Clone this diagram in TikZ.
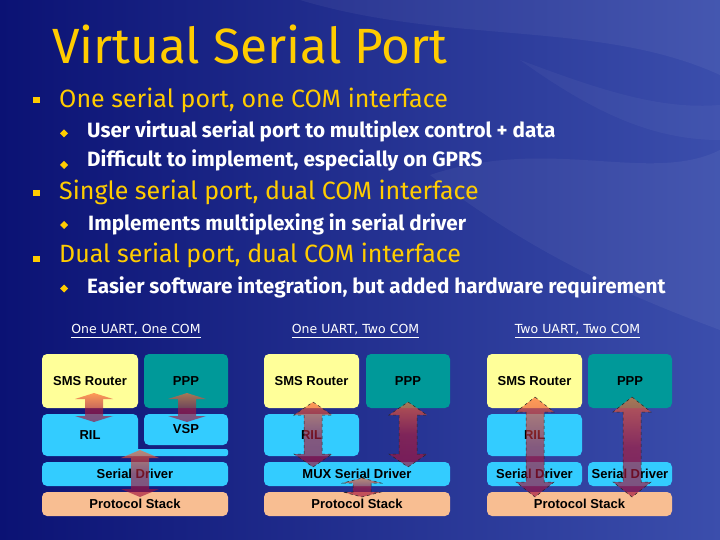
\documentclass[tikz,border=0pt]{standalone}
\usepackage{fontspec}
\setmainfont{Fira Sans}
\newfontfamily\boxfont{Liberation Sans}
\newfontfamily\headfont{DejaVu Sans}
\usetikzlibrary{calc}
\definecolor{SlideDark}  {HTML}{0B1274}
\definecolor{SlideLight} {HTML}{3B4EAC}
\definecolor{TitleYellow}{HTML}{FFCC00}
\definecolor{SmsYellow}  {HTML}{FFFF99}
\definecolor{PppTeal}    {HTML}{009999}
\definecolor{LayerBlue}  {HTML}{33CCFF}
\definecolor{StackPeach} {HTML}{F8BE92}
\definecolor{ArrowTop}   {HTML}{FF6633}
\definecolor{ArrowBot}   {HTML}{A0103C}

% double block arrow between two named coordinates: [style]{top}{bottom}{head length}
\newcommand{\dblarrow}[4][]{%
  \path[arrowbody,#1] let \p1=(#2), \p2=(#3) in
    (\x1,\y1) -- (\x1+19pt,\y1-#4) -- (\x1+9pt,\y1-#4) -- (\x1+9pt,\y2+#4)
    -- (\x1+19pt,\y2+#4) -- (\x1,\y2) -- (\x1-19pt,\y2+#4) -- (\x1-9pt,\y2+#4)
    -- (\x1-9pt,\y1-#4) -- (\x1-19pt,\y1-#4) -- cycle;}

\begin{document}
\begin{tikzpicture}[x=1pt, y=-1pt,
  title/.style={anchor=base west, inner sep=0pt, text=TitleYellow, font=\fontsize{49.5}{55}\selectfont},
  point/.style={anchor=base west, inner sep=0pt, text=TitleYellow, font=\fontsize{25}{29}\selectfont},
  subpoint/.style={anchor=base west, inner sep=0pt, text=white, font=\bfseries\fontsize{20.7}{24}\selectfont},
  heading/.style={inner sep=0pt, text=white, font=\headfont\fontsize{12.5}{14}\selectfont},
  layer/.style={rounded corners=5pt, inner sep=0pt, text=black, font=\boxfont\bfseries\fontsize{13}{15}\selectfont},
  sms/.style={layer, fill=SmsYellow, minimum height=54pt},
  ppp/.style={layer, fill=PppTeal, minimum height=54pt},
  ril/.style={layer, fill=LayerBlue, minimum height=42pt},
  driver/.style={layer, fill=LayerBlue, minimum height=24pt},
  stack/.style={layer, fill=StackPeach, minimum height=24pt},
  arrowbody/.style={top color=ArrowTop, bottom color=ArrowBot, middle color=ArrowBot!85!ArrowTop, fill opacity=0.65},
  dashedge/.style={draw=black!85, dashed, line width=0.5pt}]

  \useasboundingbox (0,0) rectangle (720,540);

  % ===== BACKGROUND =====
  \shade[left color=SlideDark, right color=SlideLight] (0,0) rectangle (720,540);
  \fill[white, opacity=0.05] (300,0) .. controls (450,45) and (600,20) .. (720,75) -- (720,0) -- cycle;
  \fill[white, opacity=0.05] (430,175) .. controls (550,135) and (650,185) .. (720,150)
        -- (720,330) .. controls (640,300) and (540,260) .. (430,175) -- cycle;
  \fill[white, opacity=0.04] (520,60) .. controls (600,90) and (660,110) .. (720,105)
        -- (720,140) .. controls (650,140) and (590,110) .. (520,60) -- cycle;

  % ===== TITLE AND BULLETS =====
  \node[title] (title) at (52,64) {Virtual Serial Port};

  \foreach \y in {100,193.5,258.5}
    \fill[TitleYellow] (33,\y-3) rectangle (40,\y+3);
  \foreach \y in {133.5,165,225,288.5}
    \fill[TitleYellow] (64,\y-4) -- (68,\y) -- (64,\y+4) -- (60,\y) -- cycle;

  \node[point]    (p1)  at (59,108) {One serial port, one COM interface};
  \node[subpoint] (p1a) at (87,138) {User virtual serial port to multiplex control + data};
  \node[subpoint] (p1b) at (87,167) {Difficult to implement, especially on GPRS};
  \node[point]    (p2)  at (59,200) {Single serial port, dual COM interface};
  \node[subpoint] (p2a) at (88,230) {Implements multiplexing in serial driver};
  \node[point]    (p3)  at (59,262) {Dual serial port, dual COM interface};
  \node[subpoint] (p3a) at (87,293) {Easier software integration, but added hardware requirement};

  % ===== PANEL 1: ONE UART, ONE COM =====
  \node[heading] (headA) at (136,331) {\underline{One UART, One COM}};
  \fill[LayerBlue, rounded corners=2pt] (130,449) rectangle (228,456);
  \node[sms, minimum width=96pt]    (smsA)    at (90,381)    {SMS Router};
  \node[ppp, minimum width=84pt]    (pppA)    at (186,381)   {PPP};
  \node[ril, minimum width=96pt]    (rilA)    at (90,435)    {RIL};
  \node[layer, fill=LayerBlue, minimum width=84pt, minimum height=31pt]
                                    (vspA)    at (186,429.5) {VSP};
  \node[driver, minimum width=186pt] (serA)   at (135,474)   {Serial Driver};
  \node[stack, minimum width=186pt]  (stackA) at (135,504)   {Protocol Stack};

  \coordinate (a1t) at (94,393);  \coordinate (a1b) at (94,422);
  \coordinate (a2t) at (187,393); \coordinate (a2b) at (187,422);
  \coordinate (a3t) at (140,450); \coordinate (a3b) at (140,497);
  \dblarrow{a1t}{a1b}{6pt}
  \dblarrow{a2t}{a2b}{6pt}
  \dblarrow{a3t}{a3b}{8pt}

  % ===== PANEL 2: ONE UART, TWO COM =====
  \node[heading] (headB) at (355.5,331) {\underline{One UART, Two COM}};
  \node[sms, minimum width=95pt]     (smsB)   at (311.5,381) {SMS Router};
  \node[ppp, minimum width=84pt]     (pppB)   at (408,381)   {PPP};
  \node[ril, minimum width=95pt]     (rilB)   at (311.5,435) {RIL};
  \node[driver, minimum width=186pt] (muxB)   at (357,474)   {MUX Serial Driver};
  \node[stack, minimum width=186pt]  (stackB) at (357,504)   {Protocol Stack};

  \coordinate (b1t) at (313,402); \coordinate (b1b) at (313,467);
  \coordinate (b2t) at (408,402); \coordinate (b2b) at (408,467);
  \coordinate (b3t) at (362,478); \coordinate (b3b) at (362,497);
  \dblarrow[dashedge]{b1t}{b1b}{13pt}
  \dblarrow[dashedge]{b2t}{b2b}{13pt}
  \dblarrow[dashedge]{b3t}{b3b}{5pt}

  % ===== PANEL 3: TWO UART, TWO COM =====
  \node[heading] (headC) at (577.5,331) {\underline{Two UART, Two COM}};
  \node[sms, minimum width=95pt]     (smsC)   at (534.5,381) {SMS Router};
  \node[ppp, minimum width=84pt]     (pppC)   at (630,381)   {PPP};
  \node[ril, minimum width=95pt]     (rilC)   at (534.5,435) {RIL};
  \node[driver, minimum width=95pt]  (serC)   at (534.5,474) {Serial Driver};
  \node[driver, minimum width=84pt]  (serD)   at (630,474)   {Serial Driver};
  \node[stack, minimum width=185pt]  (stackC) at (579.5,504) {Protocol Stack};

  \coordinate (c1t) at (535,397); \coordinate (c1b) at (535,497);
  \coordinate (c2t) at (632,397); \coordinate (c2b) at (632,497);
  \dblarrow[dashedge]{c1t}{c1b}{15pt}
  \dblarrow[dashedge]{c2t}{c2b}{15pt}

\end{tikzpicture}
\end{document}
